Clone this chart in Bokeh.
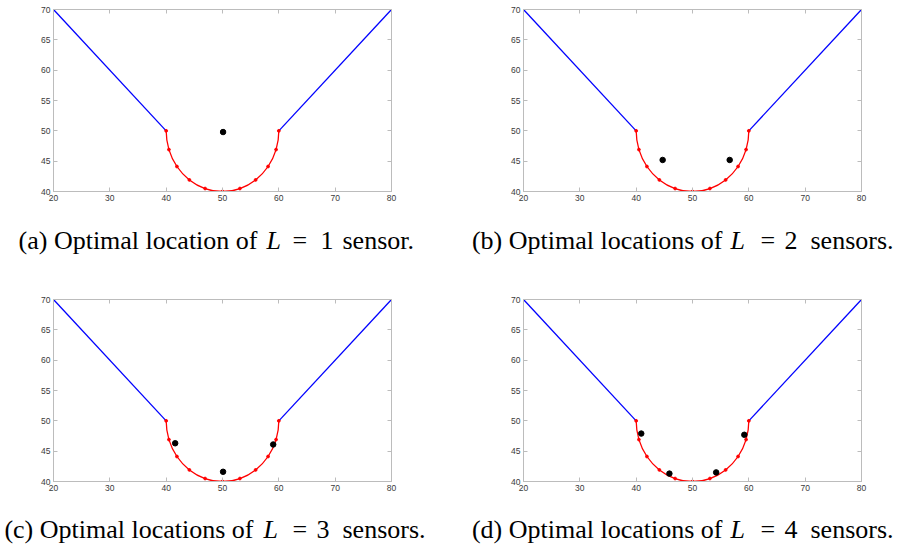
from bokeh.plotting import figure
from bokeh.layouts import column, row
from bokeh.models import Range1d, LinearAxis, FixedTicker, CustomJSTickFormatter
from bokeh.core.properties import value
from bokeh.embed import file_html
from bokeh.resources import INLINE

# --- geometry of the channel -------------------------------------------
# straight walls
wall_left_x = [20, 40]
wall_left_y = [70, 50]
wall_right_x = [60, 80]
wall_right_y = [50, 70]
# semicircular bottom (radius 10 around (50, 50)), boundary nodes
arc_x = [40.0, 40.49, 41.91, 44.12, 46.91, 50.0, 53.09, 55.88, 58.09, 59.51, 60.0]
arc_y = [50.0, 46.91, 44.12, 41.91, 40.49, 40.0, 40.49, 41.91, 44.12, 46.91, 50.0]

# --- optimal sensor locations --------------------------------------------
sensors_a_x = [50.1]
sensors_a_y = [49.8]
sensors_b_x = [44.7, 56.6]
sensors_b_y = [45.2, 45.2]
sensors_c_x = [41.6, 50.1, 59.0]
sensors_c_y = [46.3, 41.6, 46.1]
sensors_d_x = [40.9, 45.9, 54.2, 59.2]
sensors_d_y = [47.9, 41.3, 41.5, 47.7]

# --- axes ---------------------------------------------------------------
x_ticks = [20, 30, 40, 50, 60, 70, 80]
y_ticks = [40, 45, 50, 55, 60, 65, 70]

# --- captions -----------------------------------------------------------
cap_tags = ["(a)", "(b)", "(c)", "(d)"]
cap_nouns = ["location", "locations", "locations", "locations"]
cap_counts = ["1", "2", "3", "4"]
cap_tails = ["sensor.", "sensors.", "sensors.", "sensors."]

GRAY = "#bcbcbc"
LABEL = "#3a3a3a"
SERIF = "Liberation Serif"
CAP_SIZE = "26px"
FRAME_W, FRAME_H, FRAME_TOP = 338, 182, 9


def style_axis(ax, ticks, show_labels=True):
    ax.ticker = FixedTicker(ticks=ticks)
    ax.axis_line_color = GRAY
    ax.axis_line_width = 1
    ax.major_tick_line_color = GRAY
    ax.major_tick_in = 4
    ax.major_tick_out = 0
    ax.minor_tick_line_color = None
    ax.major_label_text_font = "Liberation Sans"
    ax.major_label_text_font_size = "8.5px"
    ax.major_label_text_color = LABEL
    ax.major_label_standoff = 3
    if not show_labels:
        ax.formatter = CustomJSTickFormatter(code="return ''")
        ax.major_label_text_font_size = "0px"
        ax.major_label_standoff = 0


def smooth_segments(xs, ys):
    """Cubic Bezier pieces through the nodes (Catmull-Rom), with the end
    tangents mirrored so the curve meets the walls vertically."""
    px = [xs[1]] + list(xs) + [xs[-2]]
    py = [2 * ys[0] - ys[1]] + list(ys) + [2 * ys[-1] - ys[-2]]
    seg = dict(x0=[], y0=[], x1=[], y1=[], cx0=[], cy0=[], cx1=[], cy1=[])
    for i in range(1, len(px) - 2):
        seg["x0"].append(px[i]); seg["y0"].append(py[i])
        seg["x1"].append(px[i + 1]); seg["y1"].append(py[i + 1])
        seg["cx0"].append(px[i] + (px[i + 1] - px[i - 1]) / 6)
        seg["cy0"].append(py[i] + (py[i + 1] - py[i - 1]) / 6)
        seg["cx1"].append(px[i + 1] - (px[i + 2] - px[i]) / 6)
        seg["cy1"].append(py[i + 1] - (py[i + 2] - py[i]) / 6)
    return seg


def panel(sx, sy, left, right, height):
    p = figure(width=left + FRAME_W + right, height=height,
               x_range=Range1d(20, 80), y_range=Range1d(40, 70),
               x_axis_type=None, y_axis_type=None, title=None,
               output_backend="svg", toolbar_location=None,
               min_border_left=left, min_border_right=right,
               min_border_top=FRAME_TOP,
               min_border_bottom=height - FRAME_TOP - FRAME_H)
    p.grid.visible = False
    p.outline_line_color = GRAY
    p.background_fill_color = "white"
    p.border_fill_color = "white"

    xb = LinearAxis(); style_axis(xb, x_ticks)
    yl = LinearAxis(); style_axis(yl, y_ticks)
    xt = LinearAxis(); style_axis(xt, x_ticks, False)
    yr = LinearAxis(); style_axis(yr, y_ticks, False)
    p.add_layout(xb, "below")
    p.add_layout(yl, "left")
    p.add_layout(xt, "above")
    p.add_layout(yr, "right")

    p.line(wall_left_x, wall_left_y, line_color="#0000ff", line_width=1.3)
    p.line(wall_right_x, wall_right_y, line_color="#0000ff", line_width=1.3)
    p.bezier(line_color="#ff0000", line_width=1.3, **smooth_segments(arc_x, arc_y))
    p.scatter(arc_x, arc_y, size=2.8, color="#ff0000")
    p.scatter(sx, sy, size=5.5, color="black")
    return p


def caption(i, width, height, base_from_top, pos):
    """Caption strip in pixel coordinates; pos = x of the end of the lead
    text, and starts of 'L', '=', the count and the trailing word."""
    c = figure(width=width, height=height,
               x_range=Range1d(0, width), y_range=Range1d(0, height),
               x_axis_type=None, y_axis_type=None, title=None,
               output_backend="svg", toolbar_location=None,
               min_border=0)
    c.grid.visible = False
    c.outline_line_color = None
    base_y = height - base_from_top
    x_of, x_L, x_eq, x_num, x_tail = pos
    common = dict(text_font=value(SERIF), text_font_size=CAP_SIZE,
                  text_color="black", text_baseline="alphabetic")
    c.text(x=[x_of], y=[base_y],
           text=[f"{cap_tags[i]} Optimal {cap_nouns[i]} of"],
           text_align="right", **common)
    c.text(x=[x_L], y=[base_y], text=["L"], text_align="left",
           text_font_style="italic", **common)
    c.text(x=[x_eq], y=[base_y], text=["="], text_align="left", **common)
    c.text(x=[x_num], y=[base_y], text=[cap_counts[i]], text_align="left", **common)
    c.text(x=[x_tail], y=[base_y], text=[cap_tails[i]], text_align="left", **common)
    return c


pa = panel(sensors_a_x, sensors_a_y, 53, 57, 210)
pb = panel(sensors_b_x, sensors_b_y, 75, 36, 210)
pc = panel(sensors_c_x, sensors_c_y, 53, 57, 210)
pd = panel(sensors_d_x, sensors_d_y, 75, 36, 210)

ca = caption(0, 448, 80, 30, (257, 266, 292, 320, 342))
cb = caption(1, 449, 80, 30, (274, 282, 312, 336, 362))
cc = caption(2, 448, 48, 29, (253, 263, 292, 316, 342))
cd = caption(3, 449, 48, 29, (274, 282, 312, 336, 362))

layout = column(row(pa, pb), row(ca, cb), row(pc, pd), row(cc, cd))

with open("out.html", "w") as f:
    f.write(file_html(layout, INLINE))
